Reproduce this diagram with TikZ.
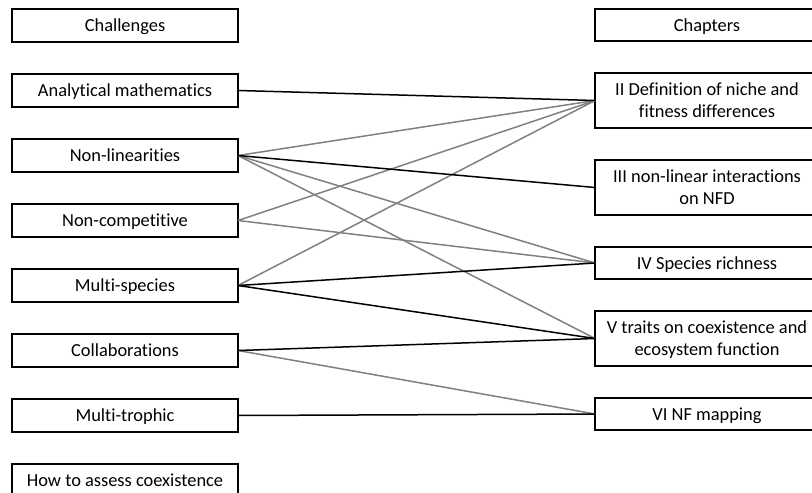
\documentclass[tikz,border=0pt]{standalone}
\usepackage{fontspec}
\setmainfont{Carlito}[Ligatures=CommonOff]
\usetikzlibrary{positioning}

\begin{document}
\begin{tikzpicture}[x=1pt,y=-1pt,node distance=32pt,
						font=\fontsize{18.4}{22}\selectfont,
						challenge/.style={draw, line width=1.3pt, outer sep=0pt, minimum width=226pt, minimum height=33pt, inner sep=0pt, text depth=0pt},
						chapter/.style={draw, line width=1.3pt, outer sep=0pt, minimum width=224pt, minimum height=32pt, inner sep=0pt, text depth=0pt, align=center},
						twoline/.style={chapter, minimum height=55pt},
						strong/.style={black, line width=1.5pt},
						weak/.style={gray, line width=1.5pt}]

						\clip (0, 0) rectangle (812, 493);

						%%% Challenges column
						\node at (125, 25.5) [challenge] (challenges) {Challenges};
						\node [below=of challenges,challenge] (analytical) {Analytical mathematics};
						\node [below=of analytical,challenge] (nonlin) {Non-linearities};
						\node [below=of nonlin,challenge] (noncomp) {Non-competitive};
						\node [below=of noncomp,challenge] (multisp) {Multi-species};
						\node [below=of multisp,challenge] (collab) {Collaborations};
						\node [below=of collab,challenge] (multitroph) {Multi-trophic};
						\node [below=of multitroph,challenge] (assess) {How to assess coexistence};

						%%% Chapters column
						\node at (707, 25) [chapter] (chapters) {Chapters};
						\node [below=of chapters,twoline] (chII) {II Definition of niche and\\fitness differences};
						\node [below=of chII,twoline] (chIII) {III non-linear interactions\\on NFD};
						\node [below=of chIII,chapter] (chIV) {IV Species richness};
						\node [below=of chIV,twoline] (chV) {V traits on coexistence and\\ecosystem function};
						\node [below=of chV,chapter] (chVI) {VI NF mapping};

						%% weak links
						\path [weak] (nonlin.east) edge (chII.west);
						\path [weak] (nonlin.east) edge (chIV.west);
						\path [weak] (nonlin.east) edge (chV.west);
						\path [weak] (noncomp.east) edge (chII.west);
						\path [weak] (noncomp.east) edge (chIV.west);
						\path [weak] (multisp.east) edge (chII.west);
						\path [weak] (collab.east) edge (chVI.west);

						%% strong links
						\path [strong] (analytical.east) edge (chII.west);
						\path [strong] (nonlin.east) edge (chIII.west);
						\path [strong] (multisp.east) edge (chIV.west);
						\path [strong] (multisp.east) edge (chV.west);
						\path [strong] (collab.east) edge (chV.west);
						\path [strong] (multitroph.east) edge (chVI.west);
					\end{tikzpicture}
\end{document}
